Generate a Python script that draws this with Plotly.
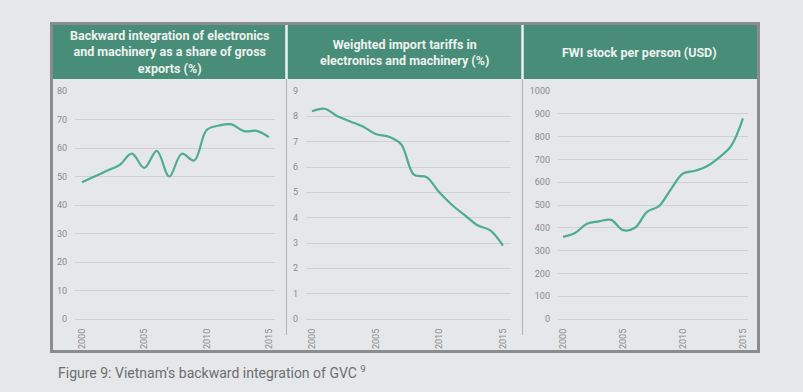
import plotly.graph_objects as go

W, H = 803, 392

years = list(range(2000, 2016))
backward_integration = [48, 50, 52, 54, 58, 53, 59, 50, 58, 55.6, 66.3, 67.9, 68.3, 65.9, 66, 63.8]
import_tariffs = [8.2, 8.3, 8.0, 7.8, 7.6, 7.3, 7.2, 6.9, 5.7, 5.6, 5.0, 4.5, 4.1, 3.7, 3.5, 2.9]
fwi_stock = [360, 377, 418, 428, 435, 390, 400, 470, 495, 570, 638, 650, 670, 708, 758, 880]

titles = [
    "Backward integration of electronics<br>and machinery as a share of gross<br>exports (%)",
    "Weighted import tariffs in<br>electronics and machinery (%)",
    "FWI stock per person (USD)",
]
y_ranges = [[0, 80], [0, 9], [0, 1000]]
y_dticks = [10, 1, 100]
caption = "Figure 9: Vietnam's backward integration of GVC <sup>9</sup>"

BG = "#e6e7e9"
GREEN_HDR = "#478d78"
LINE = "#4cae8b"
BORDER = "#8b8c8e"
GRID = "#cfd0d2"
TICK = "#8a8b8d"


def px(x):
    return x / W


def py(y):
    return 1 - y / H


# pixel geometry of plot areas
panels = [
    dict(x0=75, x1=275, xr=[1999.44, 2015.48], cx=169.5),
    dict(x0=306, x1=511, xr=[1999.53, 2015.63], cx=404),
    dict(x0=558, x1=748, xr=[1999.58, 2015.42], cx=639),
]
PY_TOP, PY_BOT = 91, 319

fig = go.Figure()
series = [backward_integration, import_tariffs, fwi_stock]

layout = dict(
    width=W, height=H, autosize=False,
    margin=dict(l=0, r=0, t=0, b=0, pad=0, autoexpand=False),
    paper_bgcolor=BG, plot_bgcolor=BG,
    showlegend=False,
    font=dict(family="Roboto", color=TICK, size=9),
)

for i, (p, s) in enumerate(zip(panels, series)):
    n = "" if i == 0 else str(i + 1)
    fig.add_trace(go.Scatter(
        x=years, y=s, mode="lines",
        line=dict(color=LINE, width=2.2, shape="spline", smoothing=1.0),
        xaxis="x" + n, yaxis="y" + n, hoverinfo="skip",
    ))
    layout["xaxis" + n] = dict(
        domain=[px(p["x0"]), px(p["x1"])], range=p["xr"],
        tickvals=[2000, 2005, 2010, 2015], tickangle=-90,
        showgrid=False, zeroline=False, showline=False,
        ticks="", ticklabelstandoff=7, automargin=False,
        tickfont=dict(size=9, color=TICK, family="Roboto"),
        anchor="y" + n, fixedrange=True,
    )
    layout["yaxis" + n] = dict(
        domain=[py(PY_BOT), py(PY_TOP)], range=y_ranges[i], dtick=y_dticks[i],
        showgrid=True, gridcolor=GRID, gridwidth=1,
        zeroline=True, zerolinecolor=GRID, zerolinewidth=1,
        showline=False, ticks="", ticklabelstandoff=7, automargin=False,
        tickfont=dict(size=9, color=TICK, family="Roboto"),
        anchor="x" + n, fixedrange=True,
    )

shapes = []
# header band
shapes.append(dict(type="rect", xref="paper", yref="paper",
                   x0=px(52), x1=px(757), y0=py(79), y1=py(24),
                   fillcolor=GREEN_HDR, line=dict(width=0), layer="below"))
# header separators (light)
for sx in [286.5, 522.5]:
    shapes.append(dict(type="line", xref="paper", yref="paper",
                       x0=px(sx), x1=px(sx), y0=py(79), y1=py(24),
                       line=dict(color="#eef0ef", width=2.5), layer="below"))
# thin panel separators
for sx in [286.5, 522.5]:
    shapes.append(dict(type="line", xref="paper", yref="paper",
                       x0=px(sx), x1=px(sx), y0=py(335), y1=py(79),
                       line=dict(color="#b0b1b3", width=1), layer="below"))
# outer border
shapes.append(dict(type="rect", xref="paper", yref="paper",
                   x0=px(51.5), x1=px(758.5), y0=py(351.5), y1=py(23.5),
                   line=dict(color=BORDER, width=3), fillcolor="rgba(0,0,0,0)", layer="above"))
layout["shapes"] = shapes

annotations = []
for p, t in zip(panels, titles):
    annotations.append(dict(
        text="<b>" + t + "</b>", xref="paper", yref="paper",
        x=px(p["cx"]), y=py(52), xanchor="center", yanchor="middle",
        showarrow=False, align="center",
        font=dict(family="Roboto", size=12.5, color="#eef1ee"),
    ))
annotations.append(dict(
    text=caption, xref="paper", yref="paper",
    x=px(56), y=py(372), xanchor="left", yanchor="middle",
    showarrow=False, font=dict(family="Roboto", size=14, color="#6d6e70"),
))
layout["annotations"] = annotations

fig.update_layout(**layout)

post = (
    "document.documentElement.style.margin='0';"
    "document.documentElement.style.overflow='hidden';"
    "document.body.style.margin='0';"
    "document.body.style.overflow='hidden';"
    "document.body.style.background='" + BG + "';"
    "var d=document.getElementById('{plot_id}');"
    "d.style.position='fixed';d.style.top='0px';d.style.left='0px';"
)
fig.write_html(
    "out.html",
    config={"displayModeBar": False, "staticPlot": True},
    post_script=post,
)
